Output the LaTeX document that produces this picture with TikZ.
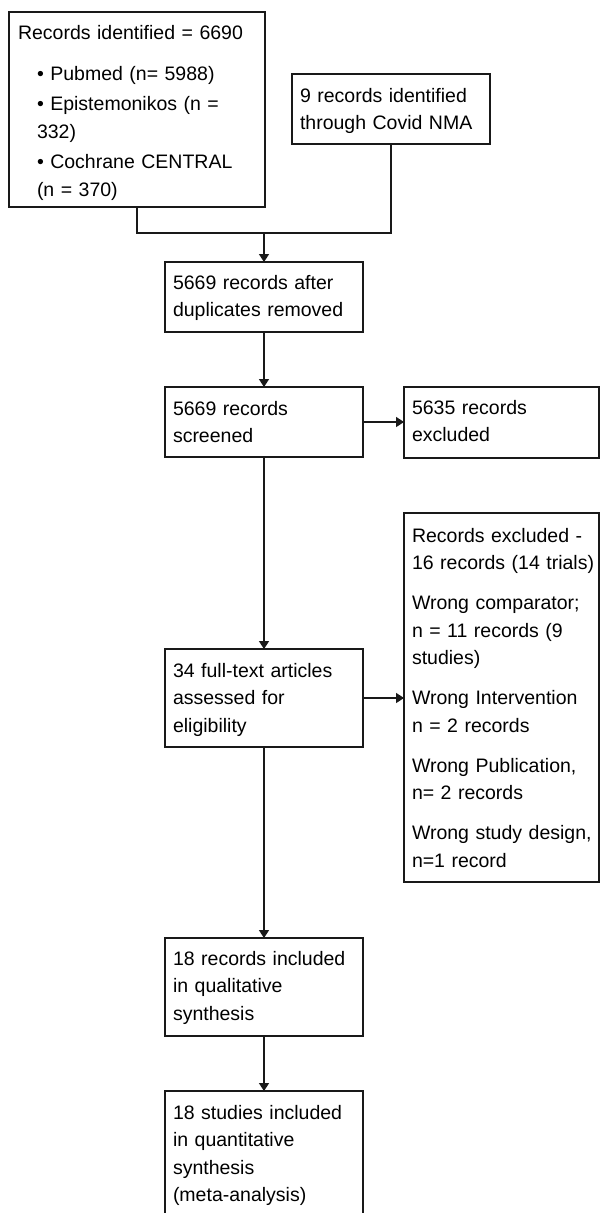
\documentclass[tikz,border=0pt]{standalone}
\usepackage{fontspec}
\setmainfont{Liberation Sans}
\usetikzlibrary{arrows.meta}
\begin{document}
\begin{tikzpicture}[x=1pt,y=-1pt,
  box/.style={draw=black!90, line width=1.6pt, inner sep=0pt, outer sep=0pt},
  txt/.style={inner sep=0pt, outer sep=0pt, anchor=north west, align=left, text width=270pt,
    font=\fontsize{19.5}{27.5}\selectfont},
  conn/.style={draw=black!90, line width=1.6pt},
  arr/.style={conn, -{Triangle[length=8pt,width=10pt]}}]
\useasboundingbox (0,0) rectangle (600,1213);
% boxes
\node[box, minimum width=256pt, minimum height=195pt] (b1) at (137,109.5) {};
\node[box, minimum width=198pt, minimum height=70pt] (b2) at (391,109) {};
\node[box, minimum width=198pt, minimum height=70pt] (b3) at (264,297) {};
\node[box, minimum width=198pt, minimum height=70pt] (b4) at (264,422) {};
\node[box, minimum width=195pt, minimum height=71pt] (b5) at (501.5,422.5) {};
\node[box, minimum width=195pt, minimum height=369pt] (b6) at (501.5,697.5) {};
\node[box, minimum width=198pt, minimum height=98pt] (b7) at (264,698) {};
\node[box, minimum width=198pt, minimum height=98pt] (b8) at (264,987) {};
\node[box, minimum width=198pt, minimum height=125pt] (b9) at (264,1153.5) {};
% texts
\node[txt] (t1) at (18,19.75) {\strut Records identified = 6690\\[13.5pt]
\hspace*{19pt}• Pubmed (n= 5988)\\[3pt]
\hspace*{19pt}• Epistemonikos (n =\\
\hspace*{19pt}332)\\[3pt]
\hspace*{19pt}• Cochrane CENTRAL\\
\hspace*{19pt}(n = 370)};
\node[txt] (t2) at (300,82.75) {\strut 9 records identified\\through Covid NMA};
\node[txt] (t3) at (173,269.75) {\strut 5669 records after\\duplicates removed};
\node[txt] (t4) at (173,395.75) {\strut 5669 records\\screened};
\node[txt] (t5) at (412,394.75) {\strut 5635 records\\excluded};
\node[txt] (t6) at (412,522.75) {\strut Records excluded -\\16 records (14 trials)\\[12.5pt]
Wrong comparator;\\n = 11 records (9\\studies)\\[12.5pt]
Wrong Intervention\\n = 2 records\\[12.5pt]
Wrong Publication,\\n= 2 records\\[12.5pt]
Wrong study design,\\n=1 record};
\node[txt] (t7) at (173,657.75) {\strut 34 full-text articles\\assessed for\\eligibility};
\node[txt] (t8) at (173,945.75) {\strut 18 records included\\in qualitative\\synthesis};
\node[txt] (t9) at (173,1099.75) {\strut 18 studies included\\in quantitative\\synthesis\\(meta-analysis)};
% connectors
\coordinate (m) at (264,233);
\draw[conn] (b1.south) |- (m) -| (b2.south);
\draw[arr] (m) -- (b3.north);
\draw[arr] (b3.south) -- (b4.north);
\draw[arr] (b4.east) -- (b4.east -| b5.west);
\draw[arr] (b4.south) -- (b7.north);
\draw[arr] (b7.east) -- (b7.east -| b6.west);
\draw[arr] (b7.south) -- (b8.north);
\draw[arr] (b8.south) -- (b9.north);
\end{tikzpicture}
\end{document}
